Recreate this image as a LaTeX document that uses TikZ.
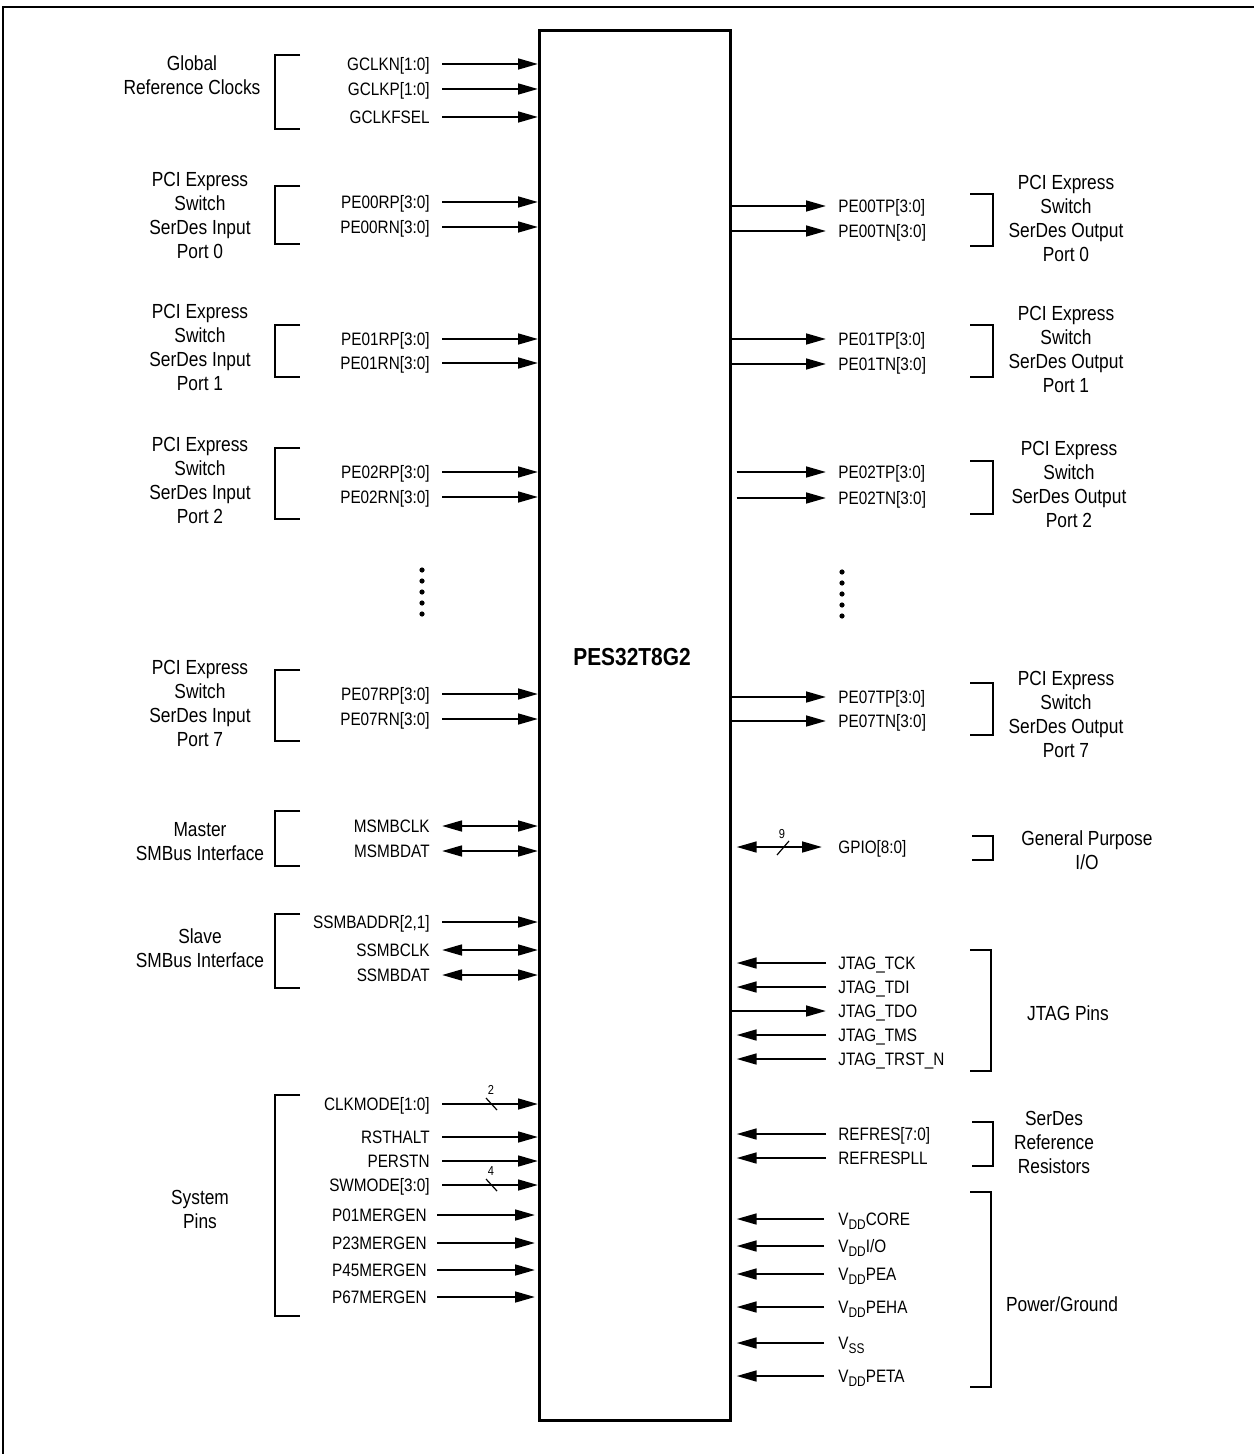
\documentclass[tikz,border=0pt]{standalone}
\usepackage{fontspec}
\setmainfont[FakeStretch=0.85]{Liberation Sans}
\usetikzlibrary{arrows.meta}
\newcommand{\lowsub}[1]{\raisebox{-2.2pt}{\fontsize{7}{7}\selectfont #1}}
\begin{document}
\begin{tikzpicture}[x=0.5pt,y=-0.5pt,
  pinfont/.style={font=\fontsize{9}{10}\selectfont},
  pinL/.style={pinfont, anchor=east, text height=6.4pt, text depth=0pt, inner sep=0pt},
  pinR/.style={pinfont, anchor=west, text height=6.4pt, text depth=0pt, inner sep=0pt},
  grp/.style={font=\fontsize{10.2}{12}\selectfont, align=center, inner sep=0pt},
  brk/.style={line width=1.2pt},
  arr/.style={line width=1.1pt, -{Triangle[length=10pt,width=5.4pt]}},
  biarr/.style={line width=1.1pt, {Triangle[length=10pt,width=5.4pt]}-{Triangle[length=10pt,width=5.4pt]}},
  rin/.style={arr, shorten >=2.5pt},
  busn/.style={font=\fontsize{6.5}{7}\selectfont, inner sep=0pt},
  slash/.style={line width=0.6pt}
]
\useasboundingbox (0,0) rectangle (1254,1454);
\draw[line width=1.4pt] (3,1454) -- (3,7) -- (1254,7);

% chip
\node[draw, line width=1.3pt, anchor=north west, minimum width=95.5pt, minimum height=695pt, inner sep=0pt] (chip) at (538,29) {};
\node[font=\bfseries\fontsize{12.3}{14}\selectfont] (chipname) at (632,657) {PES32T8G2};

% ---------- left side pins ----------
\node[pinL] (gn) at (430,64) {GCLKN[1:0]};
\node[pinL] (gp) at (430,89) {GCLKP[1:0]};
\node[pinL] (gf) at (430,117) {GCLKFSEL};
\node[pinL] (r0p) at (430,202) {PE00RP[3:0]};
\node[pinL] (r0n) at (430,227) {PE00RN[3:0]};
\node[pinL] (r1p) at (430,339) {PE01RP[3:0]};
\node[pinL] (r1n) at (430,363) {PE01RN[3:0]};
\node[pinL] (r2p) at (430,472) {PE02RP[3:0]};
\node[pinL] (r2n) at (430,497) {PE02RN[3:0]};
\node[pinL] (r7p) at (430,694) {PE07RP[3:0]};
\node[pinL] (r7n) at (430,719) {PE07RN[3:0]};
\node[pinL] (mclk) at (430,826) {MSMBCLK};
\node[pinL] (mdat) at (430,851) {MSMBDAT};
\node[pinL] (sadr) at (430,922) {SSMBADDR[2,1]};
\node[pinL] (sclk) at (430,950) {SSMBCLK};
\node[pinL] (sdat) at (430,975) {SSMBDAT};
\node[pinL] (clkm) at (430,1104) {CLKMODE[1:0]};
\node[pinL] (rsth) at (430,1137) {RSTHALT};
\node[pinL] (pers) at (430,1161) {PERSTN};
\node[pinL] (swm) at (430,1185) {SWMODE[3:0]};
\node[pinL] (m01) at (427,1215) {P01MERGEN};
\node[pinL] (m23) at (427,1243) {P23MERGEN};
\node[pinL] (m45) at (427,1270) {P45MERGEN};
\node[pinL] (m67) at (427,1297) {P67MERGEN};

\foreach \p in {gn,gp,gf,r0p,r0n,r1p,r1n,r2p,r2n,r7p,r7n,sadr,clkm,rsth,pers,swm}
  \draw[arr] ([xshift=6pt]\p.east) -- (\p.east -| chip.west);
\foreach \p in {m01,m23,m45,m67}
  \draw[arr, shorten >=1.5pt] ([xshift=5pt]\p.east) -- (\p.east -| chip.west);
\foreach \p in {mclk,mdat,sclk,sdat}
  \draw[biarr] ([xshift=6pt]\p.east) -- (\p.east -| chip.west);

% bus width marks (left)
\draw[slash] (486,1098) -- (497,1110);
\node[busn] (w2) at (491,1090) {2};
\draw[slash] (486,1179) -- (497,1191);
\node[busn] (w4) at (491,1171) {4};

% left brackets
\draw[brk] (300,55) -- (275,55) -- (275,129) -- (300,129);
\draw[brk] (300,186) -- (275,186) -- (275,244) -- (300,244);
\draw[brk] (300,325) -- (275,325) -- (275,377) -- (300,377);
\draw[brk] (300,448) -- (275,448) -- (275,519) -- (300,519);
\draw[brk] (300,670) -- (275,670) -- (275,741) -- (300,741);
\draw[brk] (300,811) -- (275,811) -- (275,866) -- (300,866);
\draw[brk] (300,914) -- (275,914) -- (275,988) -- (300,988);
\draw[brk] (300,1095) -- (275,1095) -- (275,1316) -- (300,1316);

% left group labels
\node[grp] (gclk) at (192,75) {Global\\Reference Clocks};
\node[grp] (gin0) at (200,215) {PCI Express\\Switch\\SerDes Input\\Port 0};
\node[grp] (gin1) at (200,347) {PCI Express\\Switch\\SerDes Input\\Port 1};
\node[grp] (gin2) at (200,480) {PCI Express\\Switch\\SerDes Input\\Port 2};
\node[grp] (gin7) at (200,703) {PCI Express\\Switch\\SerDes Input\\Port 7};
\node[grp] (gmst) at (200,842) {Master\\SMBus Interface};
\node[grp] (gslv) at (200,948) {Slave\\SMBus Interface};
\node[grp] (gsys) at (200,1209) {System\\Pins};

% dots
\foreach \yy in {570,581,592,603,614} \fill (422,\yy) circle (1.3pt);
\foreach \yy in {572,583,594,605,616} \fill (842,\yy) circle (1.3pt);

% ---------- right side pins ----------
\node[pinR] (t0p) at (838,206) {PE00TP[3:0]};
\node[pinR] (t0n) at (838,231) {PE00TN[3:0]};
\node[pinR] (t1p) at (838,339) {PE01TP[3:0]};
\node[pinR] (t1n) at (838,364) {PE01TN[3:0]};
\node[pinR] (t2p) at (838,472) {PE02TP[3:0]};
\node[pinR] (t2n) at (838,498) {PE02TN[3:0]};
\node[pinR] (t7p) at (838,697) {PE07TP[3:0]};
\node[pinR] (t7n) at (838,721) {PE07TN[3:0]};
\node[pinR] (gpio) at (838,847) {GPIO[8:0]};
\node[pinR] (tck) at (838,963) {JTAG\_TCK};
\node[pinR] (tdi) at (838,987) {JTAG\_TDI};
\node[pinR] (tdo) at (838,1011) {JTAG\_TDO};
\node[pinR] (tms) at (838,1035) {JTAG\_TMS};
\node[pinR] (trst) at (838,1059) {JTAG\_TRST\_N};
\node[pinR] (rfr) at (838,1134) {REFRES[7:0]};
\node[pinR] (rfp) at (838,1158) {REFRESPLL};
\node[pinR] (vcore) at (838,1219) {V\lowsub{DD}CORE};
\node[pinR] (vio) at (838,1246) {V\lowsub{DD}I/O};
\node[pinR] (vpea) at (838,1274) {V\lowsub{DD}PEA};
\node[pinR] (vpeha) at (838,1307) {V\lowsub{DD}PEHA};
\node[pinR] (vss) at (838,1343) {V\lowsub{SS}};
\node[pinR] (vpeta) at (838,1376) {V\lowsub{DD}PETA};

\foreach \p in {t0p,t0n,t1p,t1n,t7p,t7n,tdo}
  \draw[arr] (\p.west -| chip.east) -- ([xshift=-6pt]\p.west);
\foreach \p in {t2p,t2n}
  \draw[arr, shorten <=2.5pt] (\p.west -| chip.east) -- ([xshift=-6pt]\p.west);
\foreach \p in {tck,tdi,tms,trst,rfr,rfp}
  \draw[rin] ([xshift=-6pt]\p.west) -- (\p.west -| chip.east);
\foreach \p in {vcore,vio,vpea,vpeha,vss,vpeta}
  \draw[rin] ([xshift=-7pt]\p.west) -- (\p.west -| chip.east);
\draw[biarr, shorten <=2.5pt] (gpio.west -| chip.east) -- ([xshift=-8pt]gpio.west);
\draw[slash] (777,855) -- (789,841);
\node[busn] (w9) at (782,834) {9};

% right brackets
\draw[brk] (970,194) -- (993,194) -- (993,246) -- (970,246);
\draw[brk] (970,325) -- (993,325) -- (993,377) -- (970,377);
\draw[brk] (970,461) -- (993,461) -- (993,514) -- (970,514);
\draw[brk] (970,683) -- (993,683) -- (993,735) -- (970,735);
\draw[brk] (972,836) -- (993,836) -- (993,860) -- (972,860);
\draw[brk] (970,950) -- (991,950) -- (991,1071) -- (970,1071);
\draw[brk] (972,1122) -- (993,1122) -- (993,1166) -- (972,1166);
\draw[brk] (970,1192) -- (991,1192) -- (991,1387) -- (970,1387);

% right group labels
\node[grp] (gout0) at (1066,218) {PCI Express\\Switch\\SerDes Output\\Port 0};
\node[grp] (gout1) at (1066,349) {PCI Express\\Switch\\SerDes Output\\Port 1};
\node[grp] (gout2) at (1069,484) {PCI Express\\Switch\\SerDes Output\\Port 2};
\node[grp] (gout7) at (1066,714) {PCI Express\\Switch\\SerDes Output\\Port 7};
\node[grp] (ggpio) at (1087,850) {General Purpose\\I/O};
\node[grp] (gjtag) at (1068,1013) {JTAG Pins};
\node[grp] (gref) at (1054,1142) {SerDes\\Reference\\Resistors};
\node[grp] (gpwr) at (1062,1304) {Power/Ground};
\end{tikzpicture}
\end{document}
